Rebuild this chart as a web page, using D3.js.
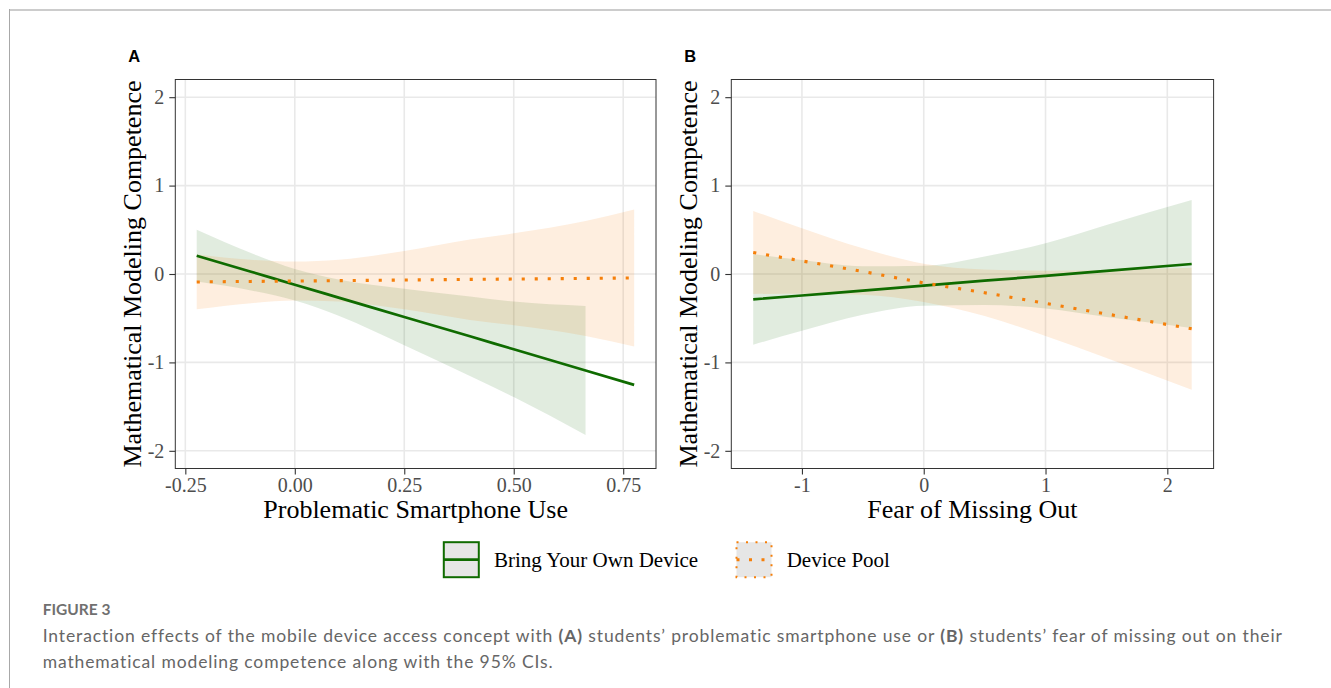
<!DOCTYPE html>
<html><head><meta charset="utf-8">
<script src="https://cdn.jsdelivr.net/npm/d3@7"></script>
<style>body{margin:0;background:#fff;overflow:hidden}</style>
</head><body>
<svg id="c" width="1331" height="688"></svg>
<script>
// ---------- data ----------
const seriesNames = ["Bring Your Own Device", "Device Pool"];
const seriesColors = ["#0f6b00", "#f57f0a"];

// Panel A: Problematic Smartphone Use
const psuX      = [-0.224, -0.1, 0, 0.1, 0.25, 0.4, 0.5, 0.664, 0.775];
const byodFitA  = [0.207, 0.026, -0.121, -0.267, -0.486, -0.705, -0.852, -1.092, -1.254];
const byodLoA   = [-0.086, -0.186, -0.299, -0.472, -0.806, -1.155, -1.392, -1.822];
const byodHiA   = [0.50, 0.238, 0.057, -0.062, -0.166, -0.255, -0.312, -0.362];
const poolFitA  = [-0.09, -0.084, -0.08, -0.075, -0.068, -0.061, -0.057, -0.05, -0.045];
const poolLoA   = [-0.40, -0.33, -0.30, -0.31, -0.40, -0.52, -0.58, -0.70, -0.82];
const poolHiA   = [0.22, 0.16, 0.14, 0.16, 0.26, 0.39, 0.46, 0.60, 0.73];
const xTicksA   = [-0.25, 0, 0.25, 0.5, 0.75];
const xLabelsA  = ["-0.25", "0.00", "0.25", "0.50", "0.75"];

// Panel B: Fear of Missing Out
const fomoX     = [-1.4, -1, -0.5, 0, 0.5, 1, 1.5, 2.2];
const byodFitB  = [-0.287, -0.243, -0.187, -0.132, -0.076, -0.021, 0.035, 0.113];
const byodLoB   = [-0.80, -0.643, -0.462, -0.358, -0.351, -0.391, -0.485, -0.61];
const byodHiB   = [0.226, 0.157, 0.088, 0.094, 0.199, 0.349, 0.555, 0.836];
const poolFitB  = [0.244, 0.148, 0.028, -0.10, -0.212, -0.332, -0.452, -0.62];
const poolLoB   = [-0.226, -0.222, -0.235, -0.317, -0.475, -0.702, -0.949, -1.31];
const poolHiB   = [0.714, 0.518, 0.291, 0.117, 0.051, 0.038, 0.045, 0.07];
const xTicksB   = [-1, 0, 1, 2];
const xLabelsB  = ["-1", "0", "1", "2"];

const yTicks    = [-2, -1, 0, 1, 2];
const yLabels   = ["-2", "-1", "0", "1", "2"];
const yTitle    = "Mathematical Modeling Competence";

// ---------- drawing ----------
const svg = d3.select("#c");
const serif = "'Liberation Serif','Times New Roman',serif";

// page frame
svg.append("line").attr("x1", 9).attr("x2", 1331).attr("y1", 10).attr("y2", 10)
  .attr("stroke", "#cccccc").attr("stroke-width", 2);
svg.append("line").attr("x1", 9.5).attr("x2", 9.5).attr("y1", 9).attr("y2", 688)
  .attr("stroke", "#a8a8a8").attr("stroke-width", 1);

const plotTop = 79.5, plotBottom = 468.5;
const y = d3.scaleLinear().domain([-2.2, 2.2]).range([plotBottom, plotTop]);

function zip(xs, ys) { return ys.map((v, i) => [xs[i], v]); }

function panel(opt) {
  const x = d3.scaleLinear().domain(opt.domain).range([opt.left, opt.right]);
  const g = svg.append("g");
  // grid
  g.selectAll(".gx").data(opt.xTicks).enter().append("line")
    .attr("x1", d => x(d)).attr("x2", d => x(d)).attr("y1", plotTop).attr("y2", plotBottom)
    .attr("stroke", "#e9e9e9").attr("stroke-width", 1.6);
  g.selectAll(".gy").data(yTicks).enter().append("line")
    .attr("x1", opt.left).attr("x2", opt.right).attr("y1", d => y(d)).attr("y2", d => y(d))
    .attr("stroke", "#e9e9e9").attr("stroke-width", 1.6);

  const area = d3.area().x(d => x(d.x)).y0(d => y(d.lo)).y1(d => y(d.hi)).curve(d3.curveMonotoneX);
  const line = d3.line().x(d => x(d[0])).y(d => y(d[1])).curve(d3.curveMonotoneX);

  opt.series.forEach((s, i) => {
    const pts = s.lo.map((v, k) => ({x: opt.xs[k], lo: v, hi: s.hi[k]}));
    g.append("path").attr("d", area(pts)).attr("fill", seriesColors[i])
      .attr("fill-opacity", i === 0 ? 0.125 : 0.13);
  });
  opt.series.forEach((s, i) => {
    const p = g.append("path").attr("d", line(zip(opt.xs, s.fit))).attr("fill", "none")
      .attr("stroke", seriesColors[i]);
    if (i === 0) p.attr("stroke-width", 2.7);
    else p.attr("stroke-width", 3.1).attr("stroke-dasharray", "3.1,9.9");
  });

  // border
  g.append("rect").attr("x", opt.left).attr("y", plotTop).attr("width", opt.right - opt.left)
    .attr("height", plotBottom - plotTop).attr("fill", "none").attr("stroke", "#333").attr("stroke-width", 1);

  // axes
  const ax = d3.axisBottom(x).tickValues(opt.xTicks).tickFormat((d, i) => opt.xLabels[i])
    .tickSize(6).tickPadding(2.8).tickSizeOuter(0);
  const gx = g.append("g").attr("transform", `translate(0,${plotBottom})`).call(ax);
  const ay = d3.axisLeft(y).tickValues(yTicks).tickFormat((d, i) => yLabels[i])
    .tickSize(6).tickPadding(5).tickSizeOuter(0);
  const gy = g.append("g").attr("transform", `translate(${opt.left},0)`).call(ay);
  [gx, gy].forEach(a => {
    a.select(".domain").remove();
    a.selectAll("line").attr("stroke", "#333").attr("stroke-width", 1.1);
    a.selectAll("text").attr("font-family", serif).attr("font-size", 20).attr("fill", "#4d4d4d");
  });

  // titles
  g.append("text").attr("x", (opt.left + opt.right) / 2).attr("y", 518)
    .attr("text-anchor", "middle").attr("font-family", serif).attr("font-size", 26)
    .attr("fill", "#000").text(opt.xTitle);
  g.append("text").attr("transform", `translate(${opt.left - 34.3},${(plotTop + plotBottom) / 2}) rotate(-90)`)
    .attr("text-anchor", "middle").attr("font-family", serif).attr("font-size", 26)
    .attr("fill", "#000").text(yTitle);
  g.append("text").attr("x", opt.left - 47).attr("y", 61.7)
    .attr("font-family", "'Liberation Sans',Arial,sans-serif").attr("font-weight", "bold")
    .attr("font-size", 16.5).attr("fill", "#000").text(opt.tag);
}

panel({
  tag: "A", left: 175.3, right: 656, domain: [-0.2729, 0.8249],
  xs: psuX, xTicks: xTicksA, xLabels: xLabelsA, xTitle: "Problematic Smartphone Use",
  series: [
    {fit: byodFitA, lo: byodLoA, hi: byodHiA},
    {fit: poolFitA, lo: poolLoA, hi: poolHiA}
  ]
});
panel({
  tag: "B", left: 731.3, right: 1213.6, domain: [-1.58, 2.38],
  xs: fomoX, xTicks: xTicksB, xLabels: xLabelsB, xTitle: "Fear of Missing Out",
  series: [
    {fit: byodFitB, lo: byodLoB, hi: byodHiB},
    {fit: poolFitB, lo: poolLoB, hi: poolHiB}
  ]
});

// legend
const keyX = [443.8, 736.5], keyY = 542.2, keyS = 35;
const labX = [494, 786.7];
seriesNames.forEach((name, i) => {
  const lg = svg.append("g");
  lg.append("rect").attr("x", keyX[i]).attr("y", keyY).attr("width", keyS).attr("height", keyS)
    .attr("fill", "#e6e6e6").attr("stroke", seriesColors[i]).attr("stroke-width", 2)
    .attr("stroke-dasharray", i === 0 ? null : "2,7.5");
  lg.append("line").attr("x1", keyX[i]).attr("x2", keyX[i] + keyS)
    .attr("y1", keyY + keyS / 2).attr("y2", keyY + keyS / 2)
    .attr("stroke", seriesColors[i]).attr("stroke-width", i === 0 ? 2.7 : 3)
    .attr("stroke-dasharray", i === 0 ? null : "3,9.5");
  lg.append("text").attr("x", labX[i]).attr("y", 567.3).attr("font-family", serif)
    .attr("font-size", 21).attr("fill", "#000").text(name);
});

// caption
const capFont = "Lato,'Open Sans',sans-serif";
svg.append("text").attr("x", 42.7).attr("y", 615).attr("font-family", capFont)
  .attr("font-size", 15.5).attr("font-weight", 700).attr("fill", "#707070").text("FIGURE 3");
const cap1 = svg.append("text").attr("x", 42.7).attr("y", 641.7).attr("font-family", capFont)
  .attr("font-size", 17.5).attr("fill", "#666");
[["Interaction effects of the mobile device access concept with ", 400], ["(A)", 700],
 [" students’ problematic smartphone use or ", 400], ["(B)", 700],
 [" students’ fear of missing out on their", 400]].forEach(([t, w]) =>
  cap1.append("tspan").attr("font-weight", w).text(t));
const cap2 = svg.append("text").attr("x", 42.7).attr("y", 668.2).attr("font-family", capFont)
  .attr("font-size", 17.5).attr("fill", "#666")
  .text("mathematical modeling competence along with the 95% CIs.");
// fit line 1 width to the figure
const w1 = cap1.node().getComputedTextLength();
const n1 = cap1.text().length;
const ls = (1240 - w1) / n1;
cap1.attr("letter-spacing", ls);
cap2.attr("letter-spacing", ls);
</script>
</body></html>
